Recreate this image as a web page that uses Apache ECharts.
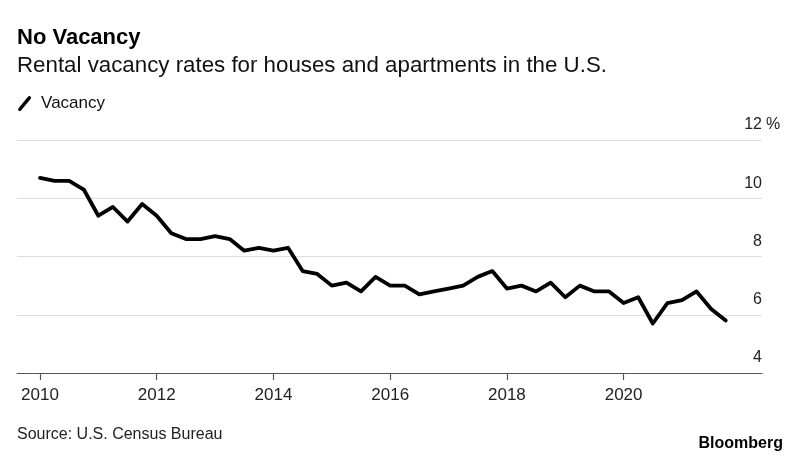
<!DOCTYPE html>
<html>
<head>
<meta charset="utf-8">
<script src="https://cdn.jsdelivr.net/npm/echarts@6/dist/echarts.min.js"></script>
<style>
html,body{margin:0;padding:0;background:#fff;}
#chart{width:800px;height:459px;}
</style>
</head>
<body>
<div id="chart"></div>
<script>
// Quarterly periods (plotted at quarter end)
const quarters = [
  '2009Q4',
  '2010Q1','2010Q2','2010Q3','2010Q4',
  '2011Q1','2011Q2','2011Q3','2011Q4',
  '2012Q1','2012Q2','2012Q3','2012Q4',
  '2013Q1','2013Q2','2013Q3','2013Q4',
  '2014Q1','2014Q2','2014Q3','2014Q4',
  '2015Q1','2015Q2','2015Q3','2015Q4',
  '2016Q1','2016Q2','2016Q3','2016Q4',
  '2017Q1','2017Q2','2017Q3','2017Q4',
  '2018Q1','2018Q2','2018Q3','2018Q4',
  '2019Q1','2019Q2','2019Q3','2019Q4',
  '2020Q1','2020Q2','2020Q3','2020Q4',
  '2021Q1','2021Q2','2021Q3'
];
// Rental vacancy rate, %
const vacancy = [
  10.7,
  10.6, 10.6, 10.3, 9.4,
  9.7, 9.2, 9.8, 9.4,
  8.8, 8.6, 8.6, 8.7,
  8.6, 8.2, 8.3, 8.2,
  8.3, 7.5, 7.4, 7.0,
  7.1, 6.8, 7.3, 7.0,
  7.0, 6.7, 6.8, 6.9,
  7.0, 7.3, 7.5, 6.9,
  7.0, 6.8, 7.1, 6.6,
  7.0, 6.8, 6.8, 6.4,
  6.6, 5.7, 6.4, 6.5,
  6.8, 6.2, 5.8
];
const yearTicks = [2010, 2012, 2014, 2016, 2018, 2020];
const yTicks = [4, 6, 8, 10, 12];

function quarterEnd(q) {
  const y = parseInt(q.slice(0, 4), 10);
  const n = parseInt(q.slice(5), 10);
  return y + n * 0.25;
}

const FONT = '"Liberation Sans", Arial, Helvetica, sans-serif';
const chart = echarts.init(document.getElementById('chart'), null, {renderer: 'canvas'});
chart.setOption({
  animation: false,
  backgroundColor: '#ffffff',
  textStyle: {fontFamily: FONT},
  title: [
    {text: 'No Vacancy', left: 17, top: 27, padding: 0,
      textStyle: {fontFamily: FONT, fontSize: 22, fontWeight: 'bold', color: '#000'}},
    {text: 'Rental vacancy rates for houses and apartments in the U.S.', left: 17, top: 55, padding: 0,
      textStyle: {fontFamily: FONT, fontSize: 22.3, fontWeight: 'normal', color: '#111'}},
    {text: 'Source: U.S. Census Bureau', left: 17, top: 427, padding: 0,
      textStyle: {fontFamily: FONT, fontSize: 16, fontWeight: 'normal', color: '#222'}},
    {text: 'Bloomberg', right: 17, top: 436, padding: 0,
      textStyle: {fontFamily: FONT, fontSize: 16, fontWeight: 'bold', color: '#000'}}
  ],
  legend: {
    left: 18, top: 95, padding: 0,
    itemWidth: 15, itemHeight: 15,
    textStyle: {fontFamily: FONT, fontSize: 17, color: '#111', padding: [0, 0, 0, 4]},
    data: [{name: 'Vacancy', icon: 'path://M0.6,13.2 L10.8,0.8 Q12,-0.4 13.4,0.8 Q14.6,2 13.4,3.4 L3.2,15.6 Q2,16.8 0.6,15.6 Q-0.6,14.4 0.6,13.2 Z'}]
  },
  grid: {left: 17, right: 38, top: 140, bottom: 86, containLabel: false},
  xAxis: {
    type: 'value',
    min: 2009.606, max: 2022.371,
    splitLine: {show: false},
    axisLine: {show: true, lineStyle: {color: '#555', width: 1.2}},
    axisTick: {show: true, customValues: yearTicks, length: 7, lineStyle: {color: '#555', width: 1.2}},
    axisLabel: {customValues: yearTicks, formatter: v => String(Math.round(v)), margin: 14,
      fontFamily: FONT, fontSize: 17, color: '#222'}
  },
  yAxis: {
    type: 'value',
    position: 'right',
    min: 4, max: 12, interval: 2,
    axisLine: {show: false},
    axisTick: {show: false},
    splitLine: {show: true, lineStyle: {color: '#dcdcdc', width: 1.2}},
    axisLabel: {inside: true, margin: 0, verticalAlign: 'bottom', padding: [0, 0, 7, 0],
      fontFamily: FONT, fontSize: 16, color: '#222',
      formatter: v => String(v)}
  },
  graphic: [
    {type: 'text', left: 766, top: 117, style: {text: '%', fontFamily: FONT, fontSize: 16, fill: '#222'}}
  ],
  series: [{
    name: 'Vacancy',
    type: 'line',
    showSymbol: false,
    symbol: 'none',
    data: quarters.map((q, i) => [quarterEnd(q), vacancy[i]]),
    lineStyle: {color: '#000', width: 3.8, join: 'round', cap: 'round'},
    itemStyle: {color: '#000'}
  }]
});
</script>
</body>
</html>
